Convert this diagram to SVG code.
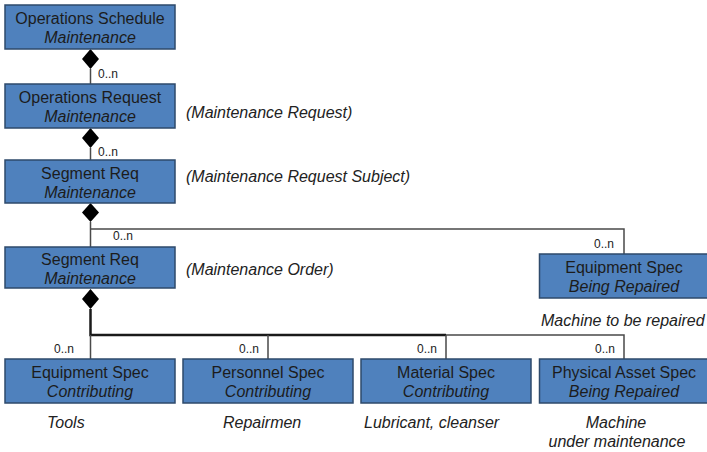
<svg xmlns="http://www.w3.org/2000/svg" width="707" height="452" viewBox="0 0 707 452">
<style>
.box{fill:#4f81bd;stroke:#2e4a6b;stroke-width:1.5}
.t{font-family:"Liberation Sans",Arial,sans-serif;font-size:16px;fill:#1c1c1c;text-anchor:middle}
.i{font-style:italic}
.lbl{font-family:"Liberation Sans",Arial,sans-serif;font-size:16px;font-style:italic;fill:#222}
.m{font-family:"Liberation Sans",Arial,sans-serif;font-size:12px;fill:#222}
.c{fill:none;stroke:#4a4a4a;stroke-width:1.5}
.ck{fill:none;stroke:#1a1a1a;stroke-width:2.5}
.d{fill:#000}
</style>
<rect width="707" height="452" fill="#fff"/>
<g id="connectors">
<path class="c" d="M90.5 69V84"/>
<path class="d" d="M90.5 49L99 59L90.5 69L82 59Z"/>
<path class="c" d="M90.5 148V160"/>
<path class="d" d="M90.5 128L99 138L90.5 148L82 138Z"/>
<path class="c" d="M90.5 222V247M90.5 229H624V254"/>
<path class="d" d="M90.5 203L99 212.5L90.5 222L82 212.5Z"/>
<path class="ck" d="M90.5 309V335H446"/>
<path class="c" d="M446 335H624V359M268 335V359M446 335V359M90.5 335V359"/>
<path class="d" d="M90.5 289L99 299L90.5 309L82 299Z"/>
<text class="m" x="98" y="78">0..n</text>
<text class="m" x="98" y="156">0..n</text>
<text class="m" x="113" y="240">0..n</text>
<text class="m" x="614" y="248" text-anchor="end">0..n</text>
<text class="m" x="74" y="353" text-anchor="end">0..n</text>
<text class="m" x="259" y="353" text-anchor="end">0..n</text>
<text class="m" x="437" y="353" text-anchor="end">0..n</text>
<text class="m" x="615" y="353" text-anchor="end">0..n</text>
</g>
<g id="ops-schedule">
<rect class="box" x="5" y="5" width="170" height="44"/>
<text class="t" x="90" y="24">Operations Schedule</text>
<text class="t i" x="90" y="43">Maintenance</text>
</g>
<g id="ops-request">
<rect class="box" x="5" y="84" width="170" height="44"/>
<text class="t" x="90" y="103">Operations Request</text>
<text class="t i" x="90" y="122">Maintenance</text>
<text class="lbl" x="186" y="118">(Maintenance Request)</text>
</g>
<g id="segreq-1">
<rect class="box" x="5" y="160" width="170" height="43"/>
<text class="t" x="90" y="179">Segment Req</text>
<text class="t i" x="90" y="198">Maintenance</text>
<text class="lbl" x="186" y="182">(Maintenance Request Subject)</text>
</g>
<g id="segreq-2">
<rect class="box" x="5" y="247" width="170" height="41"/>
<text class="t" x="90" y="265">Segment Req</text>
<text class="t i" x="90" y="284">Maintenance</text>
<text class="lbl" x="186" y="275">(Maintenance Order)</text>
</g>
<g id="equip-repaired">
<rect class="box" x="539.5" y="254" width="170" height="44"/>
<text class="t" x="624" y="273">Equipment Spec</text>
<text class="t i" x="624" y="292">Being Repaired</text>
<text class="lbl" x="541" y="326">Machine to be repaired</text>
</g>
<g id="equip-contrib">
<rect class="box" x="5" y="359" width="170" height="44"/>
<text class="t" x="90" y="378">Equipment Spec</text>
<text class="t i" x="90" y="397">Contributing</text>
<text class="lbl" x="47" y="428">Tools</text>
</g>
<g id="personnel-contrib">
<rect class="box" x="183" y="359" width="170" height="44"/>
<text class="t" x="268" y="378">Personnel Spec</text>
<text class="t i" x="268" y="397">Contributing</text>
<text class="lbl" x="223" y="428">Repairmen</text>
</g>
<g id="material-contrib">
<rect class="box" x="361" y="359" width="170" height="44"/>
<text class="t" x="446" y="378">Material Spec</text>
<text class="t i" x="446" y="397">Contributing</text>
<text class="lbl" x="364" y="428">Lubricant, cleanser</text>
</g>
<g id="asset-repaired">
<rect class="box" x="539.5" y="359" width="170" height="44"/>
<text class="t" x="624" y="378">Physical Asset Spec</text>
<text class="t i" x="624" y="397">Being Repaired</text>
<text class="lbl" x="616" y="428" text-anchor="middle">Machine</text>
<text class="lbl" x="617" y="447" text-anchor="middle">under maintenance</text>
</g>
</svg>
